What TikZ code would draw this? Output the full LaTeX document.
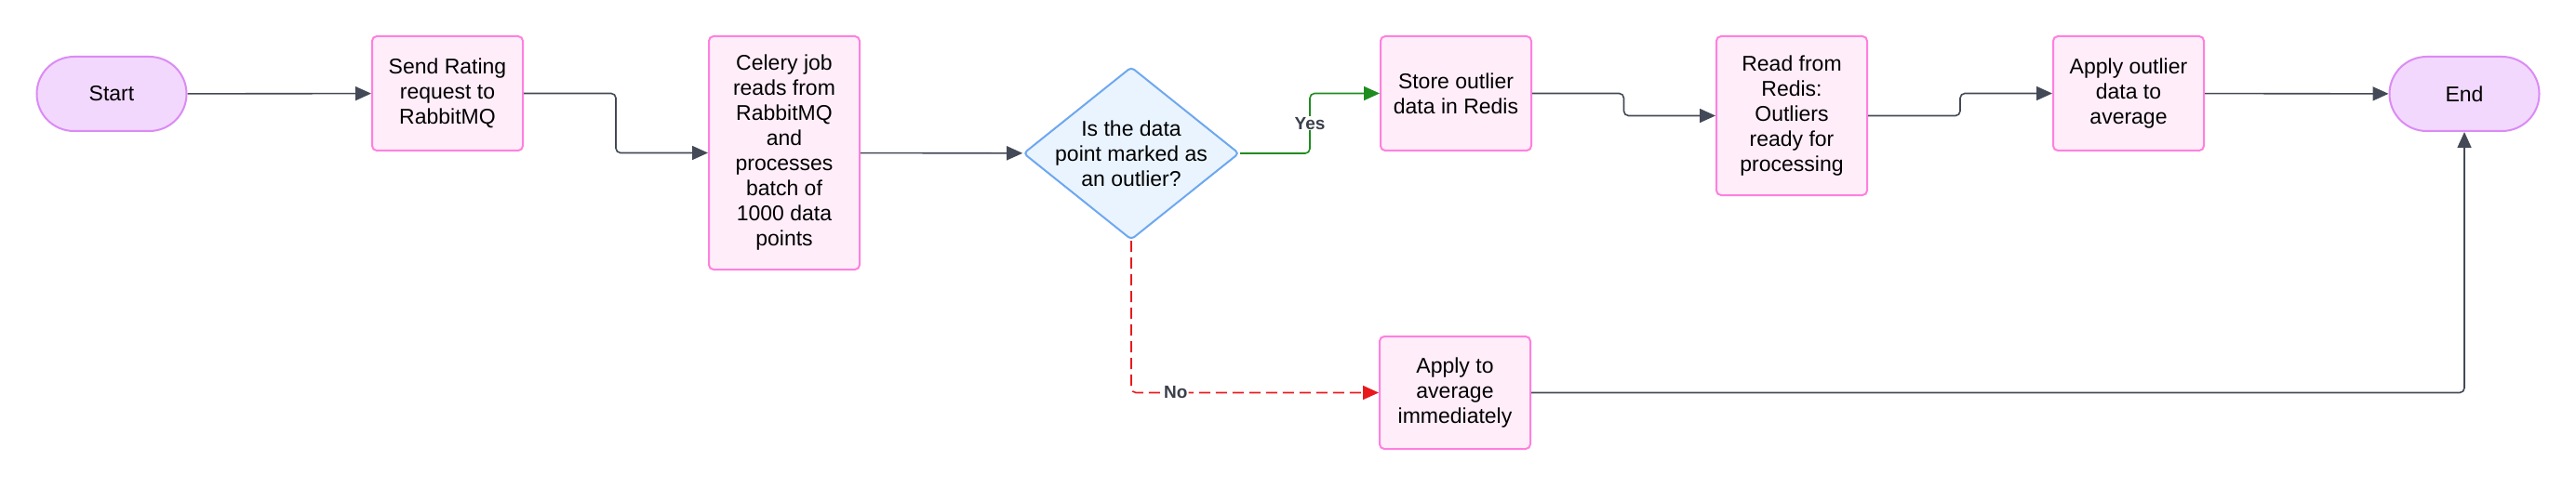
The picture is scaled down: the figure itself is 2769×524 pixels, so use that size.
\documentclass[tikz,border=0pt]{standalone}
\usepackage{fontspec}
\setmainfont{Liberation Sans}
\usepackage{xcolor}
\usepackage{tikz}
\usetikzlibrary{shapes.geometric}
\usetikzlibrary{arrows.meta}
\usetikzlibrary{calc}

\definecolor{termfill}{HTML}{F2D8FC}
\definecolor{termline}{HTML}{DB8BF5}
\definecolor{procfill}{HTML}{FFEEF9}
\definecolor{procline}{HTML}{FF80DF}
\definecolor{decfill}{HTML}{EAF4FF}
\definecolor{decline}{HTML}{6EA8F0}
\definecolor{edgegray}{HTML}{434956}
\definecolor{yesgreen}{HTML}{1E8C1E}
\definecolor{nored}{HTML}{E8191C}
\definecolor{lblgray}{HTML}{3A3F4B}

\begin{document}
\begin{tikzpicture}[x=1pt,y=-1pt,
    every node/.style={font=\fontsize{23}{27}\selectfont},
    terminal/.style={draw=termline,fill=termfill,line width=2pt,rounded corners=40pt,
      minimum width=161pt,minimum height=80pt},
    process/.style={draw=procline,fill=procfill,line width=2pt,rounded corners=5pt,
      minimum width=162pt,align=center,inner sep=0pt},
    decision/.style={diamond,draw=decline,fill=decfill,line width=2pt,rounded corners=4pt,
      minimum width=232pt,minimum height=186pt,inner sep=0pt},
    flow/.style={draw=edgegray,line width=1.6pt,rounded corners=5pt,
      -{Triangle[length=17pt,width=15pt]}},
    edgelabel/.style={font=\fontsize{19}{22}\selectfont\bfseries,text=lblgray,fill=white,inner sep=1pt}]
    \useasboundingbox (0,0) rectangle (2769,524);
    % boxes
    \node[terminal] (start) at (120,101) {Start};
    \node[process,minimum height=123pt] (send) at (481,100.5)
      {Send Rating\\request to\\RabbitMQ};
    \node[process,minimum height=251pt] (celery) at (843,164.5)
      {Celery job\\reads from\\RabbitMQ\\and\\processes\\batch of\\1000 data\\points};
    \node[decision] (dec) at (1216,165) {};
    \node[align=center] (dectext) at (dec) {Is the data\\point marked as\\an outlier?};
    \node[process,minimum height=123pt] (store) at (1565,100.5)
      {Store outlier\\data in Redis};
    \node[process,minimum height=171pt] (read) at (1926,124.5)
      {Read from\\Redis:\\Outliers\\ready for\\processing};
    \node[process,minimum height=123pt] (applyout) at (2288,100.5)
      {Apply outlier\\data to\\average};
    \node[terminal] (end) at (2649,101) {End};
    \node[process,minimum height=121pt] (applynow) at (1564,422.5)
      {Apply to\\average\\immediately};
    % connectors
    \draw[flow] (start) -- (send);
    \draw[flow] (send.east) -| ($(send.east)!0.5!(celery.west)$) |- (celery.west);
    \draw[flow] (celery) -- (dec);
    \draw[flow,draw=yesgreen] (dec.east) -| ($(dec.east)!0.5!(store.west)$) |- (store.west);
    \node[edgelabel] (yes) at ($(dec.east)!0.5!(store.west)$) {Yes};
    \draw[flow,draw=nored,dash pattern=on 12pt off 6pt] (dec.south) |- (applynow.west)
      node[edgelabel,pos=0.59] (no) {No};
    \draw[flow] (store.east) -| ($(store.east)!0.5!(read.west)$) |- (read.west);
    \draw[flow] (read.east) -| ($(read.east)!0.5!(applyout.west)$) |- (applyout.west);
    \draw[flow] (applyout) -- (end);
    \draw[flow] (applynow.east) -| (end.south);
\end{tikzpicture}
\end{document}
